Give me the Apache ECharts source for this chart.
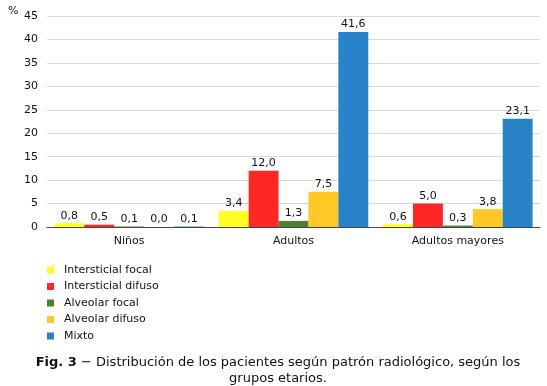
<!DOCTYPE html>
<html><head><meta charset="utf-8">
<script src="https://cdn.jsdelivr.net/npm/echarts@6/dist/echarts.min.js"></script>
<style>html,body{margin:0;padding:0;background:#fff}#c{width:547px;height:386px}</style>
</head><body><div id="c"></div>
<script>
const categories = ['Niños', 'Adultos', 'Adultos mayores'];
const seriesNames = ['Intersticial focal', 'Intersticial difuso', 'Alveolar focal', 'Alveolar difuso', 'Mixto'];
const interFocal = [0.8, 3.4, 0.6];
const interDifuso = [0.5, 12.0, 5.0];
const alvFocal = [0.1, 1.3, 0.3];
const alvDifuso = [0.0, 7.5, 3.8];
const mixto = [0.1, 41.6, 23.1];
const colors = ['#FFFF22', '#FF2626', '#4F7F2F', '#FFC824', '#2882C8'];
const values = [interFocal, interDifuso, alvFocal, alvDifuso, mixto];
const font = 'DejaVu Sans, Verdana, sans-serif';

const chart = echarts.init(document.getElementById('c'));
chart.setOption({
  animation: false,
  color: colors,
  grid: { left: 47, right: 7, top: 16, height: 211, containLabel: false },
  legend: {
    orient: 'vertical', left: 42, top: 259,
    itemWidth: 7, itemHeight: 7, itemGap: 4.5,
    icon: 'rect',
    textStyle: { fontFamily: font, fontSize: 11, color: '#111', padding: [0, 0, 0, 5], lineHeight: 12 },
    data: seriesNames
  },
  title: [
    { text: '%', left: 3, top: 1, textStyle: { fontFamily: font, fontSize: 11, fontWeight: 'normal', color: '#111' } },
    {
      text: '{b|Fig. 3} − Distribución de los pacientes según patrón radiológico, según los\ngrupos etarios.',
      left: 273, top: 350, textAlign: 'center',
      textStyle: { fontFamily: font, fontSize: 13, fontWeight: 'normal', color: '#111', lineHeight: 16,
        rich: { b: { fontFamily: font, fontSize: 13, fontWeight: 'bold', color: '#111' } } }
    }
  ],
  xAxis: {
    type: 'category', data: categories,
    axisTick: { show: false },
    axisLine: { lineStyle: { color: '#444', width: 1 } },
    axisLabel: { fontFamily: font, fontSize: 11, color: '#111', margin: 9 }
  },
  yAxis: {
    type: 'value', min: 0, max: 45, interval: 5,
    axisLabel: { fontFamily: font, fontSize: 11, color: '#111', margin: 9 },
    splitLine: { lineStyle: { color: '#d9d9d9' } },
    axisLine: { show: false }, axisTick: { show: false }
  },
  series: seriesNames.map((n, i) => ({
    name: n, type: 'bar', data: values[i],
    barGap: '0%', barCategoryGap: '9%',
    label: { show: true, position: 'top', distance: 2, fontFamily: font, fontSize: 11, color: '#111',
      formatter: p => p.value.toFixed(1).replace('.', ',') }
  }))
});
</script></body></html>
